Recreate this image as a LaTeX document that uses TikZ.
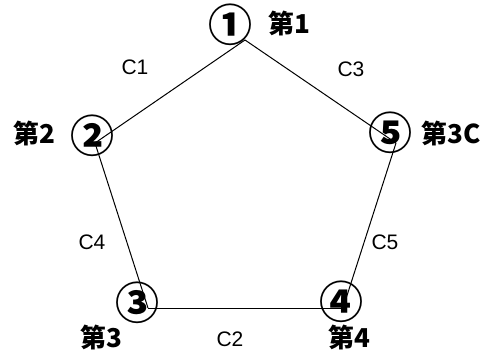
\documentclass[tikz,border=0pt]{standalone}
\usepackage{fontspec}
\setmainfont{Liberation Sans}
\newfontfamily\jp{Noto Sans CJK JP}
\begin{document}
\begin{tikzpicture}[x=1pt,y=-1pt,
  edge/.style={draw=black,line width=1pt},
  circnum/.style={font=\jp\bfseries\fontsize{44}{44}\selectfont,inner sep=0pt},
  vlabel/.style={font=\jp\bfseries\fontsize{26}{26}\selectfont,inner sep=0pt,fill=white},
  elabel/.style={font=\fontsize{21}{21}\selectfont,inner sep=0pt}]
\useasboundingbox (0,0) rectangle (493,361);
\coordinate (v1) at (245,40);
\coordinate (v2) at (95,143);
\coordinate (v5) at (396,143);
\coordinate (v3) at (148,308);
\coordinate (v4) at (343,308);
\draw[edge] (v1) -- (v2);
\draw[edge] (v1) -- (v5);
\draw[edge] (v2) -- (v3);
\draw[edge] (v5) -- (v4);
\draw[edge] (v3) -- (v4);
\node[circnum] (c1) at (230,25) {①};
\node[circnum] (c2) at (92,136) {②};
\node[circnum] (c5) at (390,133) {⑤};
\node[circnum] (c3) at (137,303) {③};
\node[circnum] (c4) at (341,302) {④};
\node[vlabel] (l1) at (289,23) {第1};
\node[vlabel] (l2) at (34,133) {第2};
\node[vlabel] (l5) at (451,133) {第3C};
\node[vlabel] (l3) at (101,337) {第3};
\node[vlabel] (l4) at (349,337) {第4};
\node[elabel] (e1) at (135,67) {C1};
\node[elabel] (e3) at (351,69) {C3};
\node[elabel] (e4) at (92,242) {C4};
\node[elabel] (e5) at (385,242) {C5};
\node[elabel] (e2) at (230,339) {C2};
\end{tikzpicture}
\end{document}
